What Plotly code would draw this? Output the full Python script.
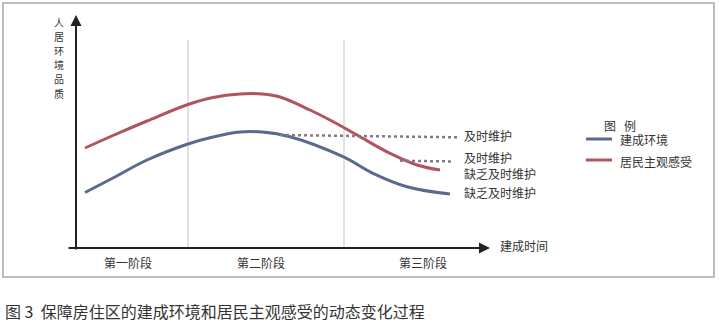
import plotly.graph_objects as go

# ---- data (time units ~ construction time, quality units arbitrary) ----
red_t = [0.225, 0.925, 1.775, 2.8, 3.425, 4.1, 4.65, 5.1, 5.85, 6.35, 7.025, 7.85, 8.525, 9.1]
red_q = [5.0, 5.625, 6.35, 7.175, 7.525, 7.7, 7.7, 7.55, 6.9, 6.4, 5.65, 4.735, 4.15, 3.9]
blue_t = [0.225, 0.925, 1.775, 2.8, 3.425, 4.1, 4.65, 5.35, 6.675, 7.425, 8.275, 9.35]
blue_q = [2.775, 3.5, 4.4, 5.2, 5.55, 5.8, 5.8, 5.565, 4.565, 3.735, 3.065, 2.7]
maint_top_t = [5.1, 9.525]
maint_top_q = [5.65, 5.535]
maint_low_t = [8.1, 9.45]
maint_low_q = [4.365, 4.325]
stage_bounds = [2.8, 6.7]
stage_labels = ["第一阶段", "第二阶段", "第三阶段"]
stage_label_t = [1.3, 4.625, 8.675]
end_labels = ["及时维护", "及时维护", "缺乏及时维护", "缺乏及时维护"]
end_label_q = [5.65, 4.55, 3.75, 2.8]
series_names = ["建成环境", "居民主观感受"]
ylabel_chars = list("人居环境品质")
caption = "图 3  保障房住区的建成环境和居民主观感受的动态变化过程"

RED = "#b0545e"
BLUE = "#586a8e"
DOT = "#85788a"
FONT = "Noto Sans CJK SC"
W, H = 719, 322

def px(x):
    return x / W

def py(y):
    return 1 - y / H

fig = go.Figure()
fig.add_trace(go.Scatter(x=red_t, y=red_q, mode="lines", line=dict(color=RED, width=3, shape="spline", smoothing=1.1),
                         name=series_names[1], showlegend=False, hoverinfo="skip"))
fig.add_trace(go.Scatter(x=blue_t, y=blue_q, mode="lines", line=dict(color=BLUE, width=3, shape="spline", smoothing=1.1),
                         name=series_names[0], showlegend=False, hoverinfo="skip"))
fig.add_trace(go.Scatter(x=maint_top_t, y=maint_top_q, mode="lines", line=dict(color=DOT, width=2.5, dash="dot"),
                         showlegend=False, hoverinfo="skip"))
fig.add_trace(go.Scatter(x=maint_low_t, y=maint_low_q, mode="lines", line=dict(color=DOT, width=2.5, dash="dot"),
                         showlegend=False, hoverinfo="skip"))

shapes = []
annotations = []

# outer frame
shapes.append(dict(type="rect", xref="paper", yref="paper", x0=px(3), x1=px(714), y0=py(277), y1=py(3),
                   line=dict(color="#a8a8a8", width=1.5), layer="below"))
# stage boundaries
for b in stage_bounds:
    shapes.append(dict(type="line", xref="x", yref="y", x0=b, x1=b, y0=0, y1=10.4,
                       line=dict(color="#c4c4c4", width=1), layer="below"))

# axes with arrows
annotations.append(dict(x=0, y=11.65, ax=0, ay=-0.15, xref="x", yref="y", axref="x", ayref="y",
                        text="", showarrow=True, arrowhead=2, arrowsize=1.1, arrowwidth=2, arrowcolor="#222"))
annotations.append(dict(x=10.35, y=0, ax=-0.225, ay=0, xref="x", yref="y", axref="x", ayref="y",
                        text="", showarrow=True, arrowhead=2, arrowsize=1.1, arrowwidth=2, arrowcolor="#222"))
annotations.append(dict(x=10.55, y=0.15, xref="x", yref="y", text="建成时间", showarrow=False,
                        xanchor="left", yanchor="middle", font=dict(size=12, color="#333", family=FONT)))

# y label (vertical chars, one per annotation)
for i, ch in enumerate(ylabel_chars):
    annotations.append(dict(x=px(59), y=py(22 + i * 14.2), xref="paper", yref="paper", text=ch,
                            showarrow=False, xanchor="center", yanchor="middle", borderpad=0, borderwidth=0,
                            font=dict(size=10, color="#333", family=FONT)))

# stage labels
for t, s in zip(stage_label_t, stage_labels):
    annotations.append(dict(x=t, y=-0.7, xref="x", yref="y", text=s, showarrow=False,
                            xanchor="center", yanchor="middle", font=dict(size=12, color="#333", family=FONT)))

# end labels
for q, s in zip(end_label_q, end_labels):
    annotations.append(dict(x=9.65, y=q, xref="x", yref="y", text=s, showarrow=False,
                            xanchor="left", yanchor="middle", font=dict(size=12, color="#333", family=FONT)))

# legend (custom)
annotations.append(dict(x=px(602), y=py(125), xref="paper", yref="paper", text="图&nbsp;&nbsp;&nbsp;例", showarrow=False,
                        xanchor="left", yanchor="middle", font=dict(size=12, color="#333", family=FONT)))
for yy, col, name in [(139, BLUE, series_names[0]), (160, RED, series_names[1])]:
    shapes.append(dict(type="line", xref="paper", yref="paper", x0=px(586), x1=px(612), y0=py(yy), y1=py(yy),
                       line=dict(color=col, width=3)))
    annotations.append(dict(x=px(618), y=py(yy + 1), xref="paper", yref="paper", text=name, showarrow=False,
                            xanchor="left", yanchor="middle", font=dict(size=12, color="#333", family=FONT)))

# caption
annotations.append(dict(x=px(4), y=py(310.5), xref="paper", yref="paper", text=caption, showarrow=False,
                        xanchor="left", yanchor="middle", borderpad=0, font=dict(size=16, color="#333", family=FONT)))

fig.update_layout(
    width=W, height=H, margin=dict(l=0, r=0, t=0, b=0),
    paper_bgcolor="white", plot_bgcolor="white",
    xaxis=dict(range=[-76 / 40, (W - 76) / 40], domain=[0, 1], visible=False, fixedrange=True),
    yaxis=dict(range=[(248 - H) / 20, 248 / 20], domain=[0, 1], visible=False, fixedrange=True),
    shapes=shapes, annotations=annotations, showlegend=False,
)
fig.write_html("out.html")
